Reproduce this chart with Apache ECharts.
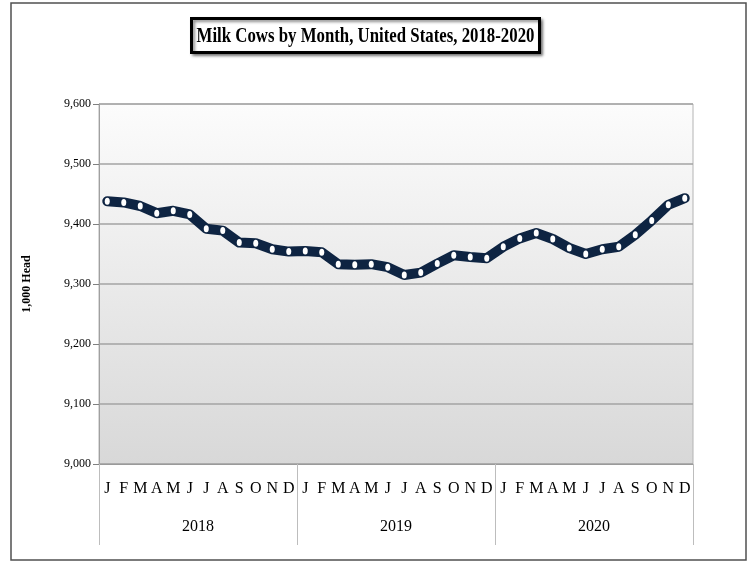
<!DOCTYPE html>
<html>
<head>
<meta charset="utf-8">
<script src="https://cdn.jsdelivr.net/npm/echarts@6/dist/echarts.min.js"></script>
<style>
  html, body { margin: 0; padding: 0; background: #fff; }
  #chart { width: 751px; height: 562px; }
</style>
</head>
<body>
<div id="chart"></div>
<script>
var months = ['J', 'F', 'M', 'A', 'M', 'J', 'J', 'A', 'S', 'O', 'N', 'D'];
var years = ['2018', '2019', '2020'];
// 1,000 head
var cows = [
  9438, 9436, 9430, 9418, 9422, 9416, 9392, 9389, 9369, 9368, 9358, 9354,
  9355, 9353, 9333, 9332, 9333, 9328, 9315, 9319, 9334, 9348, 9345, 9343,
  9362, 9376, 9385, 9375, 9360, 9350, 9358, 9362, 9382, 9406, 9432, 9443
];
var yTicks = { min: 9000, max: 9600, step: 100 };

var serif = '"Liberation Serif", "Times New Roman", serif';

var monthCats = [];
years.forEach(function () {
  months.forEach(function (m) { monthCats.push(m); });
});

var chart = echarts.init(document.getElementById('chart'));

var option = {
  animation: false,
  backgroundColor: '#fff',
  grid: {
    left: 99,
    right: 58,
    top: 104,
    bottom: 98,
    show: true,
    borderColor: '#b4b4b4',
    borderWidth: 1,
    backgroundColor: {
      type: 'linear', x: 0, y: 0, x2: 0, y2: 1,
      colorStops: [
        { offset: 0, color: '#fcfcfc' },
        { offset: 1, color: '#d8d8d8' }
      ]
    }
  },
  xAxis: [
    {
      type: 'category',
      data: monthCats,
      boundaryGap: true,
      axisLine: { show: false },
      axisTick: { show: false },
      axisLabel: {
        interval: 0,
        margin: 17,
        color: '#000',
        fontFamily: serif,
        fontSize: 16
      }
    },
    {
      type: 'category',
      data: years,
      position: 'bottom',
      boundaryGap: true,
      axisLine: { show: true, lineStyle: { color: '#9a9a9a', width: 1 } },
      axisTick: { show: true, length: 81, lineStyle: { color: '#bdbdbd', width: 1 } },
      axisLabel: {
        margin: 55,
        color: '#000',
        fontFamily: serif,
        fontSize: 16
      }
    }
  ],
  yAxis: {
    type: 'value',
    min: yTicks.min,
    max: yTicks.max,
    interval: yTicks.step,
    name: '1,000 Head',
    nameLocation: 'middle',
    nameRotate: 90,
    nameGap: 66,
    nameTextStyle: {
      color: '#000',
      fontFamily: serif,
      fontWeight: 'bold',
      fontSize: 12
    },
    axisLine: { show: true, lineStyle: { color: '#a0a0a0', width: 1 } },
    axisTick: { show: true, inside: false, length: 6, lineStyle: { color: '#808080' } },
    axisLabel: {
      margin: 8,
      color: '#000',
      fontFamily: serif,
      fontSize: 12,
      formatter: function (v) { return v.toLocaleString('en-US'); }
    },
    splitLine: { show: true, lineStyle: { color: '#a3a3a3', width: 1.5 } }
  },
  series: [
    {
      type: 'line',
      xAxisIndex: 0,
      data: cows,
      symbol: 'circle',
      symbolSize: [5, 7],
      showAllSymbol: true,
      lineStyle: { color: '#0e2442', width: 10, join: 'round', cap: 'round' },
      itemStyle: { color: '#ffffff', borderWidth: 0 },
      z: 3
    }
  ],
  graphic: [
    {
      type: 'rect',
      shape: { x: 11, y: 3, width: 735, height: 557 },
      style: { fill: 'none', stroke: '#505050', lineWidth: 1.5 },
      silent: true,
      z: -1
    },
    {
      type: 'group',
      x: 365.5,
      y: 35.5,
      children: [
        {
          type: 'rect',
          shape: { x: -174, y: -17, width: 348, height: 34 },
          style: {
            fill: '#fff',
            stroke: '#000',
            lineWidth: 3,
            shadowBlur: 3,
            shadowColor: 'rgba(0,0,0,0.45)',
            shadowOffsetX: 2,
            shadowOffsetY: 2
          }
        },
        {
          type: 'text',
          scaleX: 0.8,
          style: {
            text: 'Milk Cows by Month, United States, 2018-2020',
            x: 0,
            y: 1,
            align: 'center',
            verticalAlign: 'middle',
            fill: '#000',
            font: 'bold 21px ' + serif
          }
        }
      ]
    }
  ]
};

chart.setOption(option);
</script>
</body>
</html>
